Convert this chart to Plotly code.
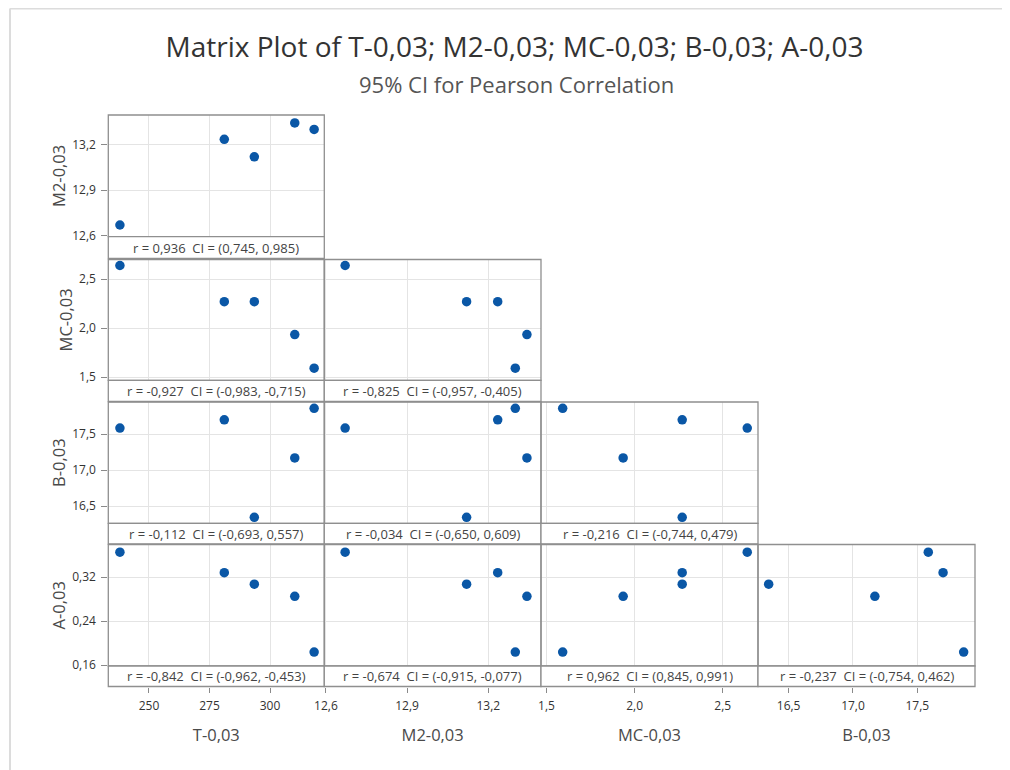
import plotly.graph_objects as go

# ---------------- data ----------------
var_names = ["T-0,03", "M2-0,03", "MC-0,03", "B-0,03", "A-0,03"]
T = [238.0, 281.1, 293.5, 310.2, 318.2]
M2 = [12.671, 13.235, 13.120, 13.343, 13.300]
MC = [2.639, 2.270, 2.270, 1.935, 1.592]
B = [17.585, 17.700, 16.345, 17.170, 17.860]
A = [0.365, 0.328, 0.307, 0.285, 0.184]

T_ticks = [250, 275, 300]
T_ticktext = ["250", "275", "300"]
M2_ticks = [12.6, 12.9, 13.2]
M2_ticktext = ["12,6", "12,9", "13,2"]
MC_ticks = [1.5, 2.0, 2.5]
MC_ticktext = ["1,5", "2,0", "2,5"]
B_ticks = [16.5, 17.0, 17.5]
B_ticktext = ["16,5", "17,0", "17,5"]
A_ticks = [0.16, 0.24, 0.32]
A_ticktext = ["0,16", "0,24", "0,32"]

# pairs (row variable, column variable) in lower triangle order
pair_rows = [1, 2, 2, 3, 3, 3, 4, 4, 4, 4]
pair_cols = [0, 0, 1, 0, 1, 2, 0, 1, 2, 3]
r_values = [0.936, -0.927, -0.825, -0.112, -0.034, -0.216, -0.842, -0.674, 0.962, -0.237]
ci_low = [0.745, -0.983, -0.957, -0.693, -0.650, -0.744, -0.962, -0.915, 0.845, -0.754]
ci_high = [0.985, -0.715, -0.405, 0.557, 0.609, 0.479, -0.453, -0.077, 0.991, 0.462]

series = [T, M2, MC, B, A]
ticks = [T_ticks, M2_ticks, MC_ticks, B_ticks, A_ticks]
ticktexts = [T_ticktext, M2_ticktext, MC_ticktext, B_ticktext, A_ticktext]
ranges = [[233.2, 322.4], [12.594, 13.395], [1.469, 2.700], [16.262, 17.948], [0.1587, 0.379]]

# ---------------- layout geometry (pixels in the screenshot) ----------------
W, H = 1010, 770
OFF = 8  # page body margin
col_px = [(108.3, 324.3), (324.3, 541.0), (541.0, 758.0), (758.0, 975.0)]
row_px = [(115.0, 236.7), (259.5, 380.3), (402.0, 523.3), (544.5, 666.0)]
strip_bottom_px = [258.5, 401.5, 544.0, 686.5]

def fx(px):
    return (px - OFF) / W

def fy(py):
    return 1 - (py - OFF) / H

fig = go.Figure()

border_col = "#8f8f8f"
grid_col = "#e4e4e4"
text_col = "#333333"
font_fam = "Open Sans"

def fmt(v):
    return f"{v:.3f}".replace(".", ",")

shapes = []
annotations = []

for k, (ri, ci) in enumerate(zip(pair_rows, pair_cols)):
    n = k + 1
    xname = "xaxis" if n == 1 else f"xaxis{n}"
    yname = "yaxis" if n == 1 else f"yaxis{n}"
    xref = "x" if n == 1 else f"x{n}"
    yref = "y" if n == 1 else f"y{n}"
    row = ri - 1
    cx0, cx1 = col_px[ci]
    ry0, ry1 = row_px[row]
    sb = strip_bottom_px[row]

    fig.add_trace(go.Scatter(
        x=series[ci], y=series[ri], mode="markers",
        marker=dict(color="#0a57a6", size=9.5, line=dict(width=0)),
        xaxis=xref, yaxis=yref, showlegend=False, hoverinfo="x+y"))

    is_bottom = (row == 3)
    is_left = (ci == 0)

    xax = dict(
        domain=[fx(cx0), fx(cx1)], range=ranges[ci],
        tickvals=ticks[ci], ticktext=ticktexts[ci],
        showgrid=True, gridcolor=grid_col, gridwidth=1,
        zeroline=False, showline=False, automargin=False,
        showticklabels=is_bottom,
        ticks="outside" if is_bottom else "", ticklen=5, tickcolor="#8a8a8a",
        tickfont=dict(family=font_fam, size=12, color=text_col),
        fixedrange=True,
    )
    if is_bottom:
        xax.update(anchor="free", position=fy(sb), side="bottom", ticklabelstandoff=3,
                   title=dict(text=var_names[ci], standoff=16,
                              font=dict(family=font_fam, size=16.5, color="#4a4a4a")))
    else:
        xax.update(anchor=yref)
    yax = dict(
        domain=[fy(ry1), fy(ry0)], range=ranges[ri],
        tickvals=ticks[ri], ticktext=ticktexts[ri],
        showgrid=True, gridcolor=grid_col, gridwidth=1,
        zeroline=False, showline=False, automargin=False,
        showticklabels=is_left,
        ticks="outside" if is_left else "", ticklen=6, tickcolor="#8a8a8a",
        tickfont=dict(family=font_fam, size=12, color=text_col),
        anchor=xref, fixedrange=True,
    )
    if is_left:
        yax.update(ticklabelstandoff=3,
                   title=dict(text=var_names[ri], standoff=2,
                              font=dict(family=font_fam, size=16.5, color="#4a4a4a")))
    fig.update_layout(**{xname: xax, yname: yax})

    # data frame
    shapes.append(dict(type="rect", xref="paper", yref="paper",
                       x0=fx(cx0), x1=fx(cx1), y0=fy(ry1), y1=fy(ry0),
                       line=dict(color=border_col, width=1.3), fillcolor="rgba(0,0,0,0)"))
    # strip
    shapes.append(dict(type="rect", xref="paper", yref="paper",
                       x0=fx(cx0), x1=fx(cx1), y0=fy(sb), y1=fy(ry1),
                       line=dict(color=border_col, width=1.3), fillcolor="white"))
    annotations.append(dict(
        xref="paper", yref="paper", x=fx((cx0 + cx1) / 2), y=fy((ry1 + sb) / 2),
        text=f"r = {fmt(r_values[k])}&nbsp;&nbsp;CI = ({fmt(ci_low[k])}, {fmt(ci_high[k])})",
        showarrow=False, xanchor="center", yanchor="middle",
        font=dict(family=font_fam, size=13, color="#444444")))

# outer frame lines
shapes.append(dict(type="line", xref="paper", yref="paper", x0=fx(10), x1=1.02, y0=fy(8.6), y1=fy(8.6),
                   line=dict(color="#dcdcdc", width=2)))
shapes.append(dict(type="line", xref="paper", yref="paper", x0=fx(10), x1=fx(10), y0=-0.02, y1=fy(8.6),
                   line=dict(color="#dcdcdc", width=2)))

annotations.append(dict(
    xref="paper", yref="paper", x=fx(516), y=fy(84), xanchor="center", yanchor="middle",
    text="95% CI for Pearson Correlation", showarrow=False,
    font=dict(family=font_fam, size=22, color="#555555")))

fig.update_layout(
    width=W, height=H,
    margin=dict(l=0, r=0, t=0, b=0, autoexpand=False),
    paper_bgcolor="white", plot_bgcolor="white",
    title=dict(text="Matrix Plot of T-0,03; M2-0,03; MC-0,03; B-0,03; A-0,03",
               x=fx(514.5), xanchor="center", xref="paper",
               y=fy(47), yref="paper", yanchor="middle",
               font=dict(family=font_fam, size=28, color="#333333")),
    shapes=shapes, annotations=annotations,
    showlegend=False,
)

fig.write_html("out.html")
